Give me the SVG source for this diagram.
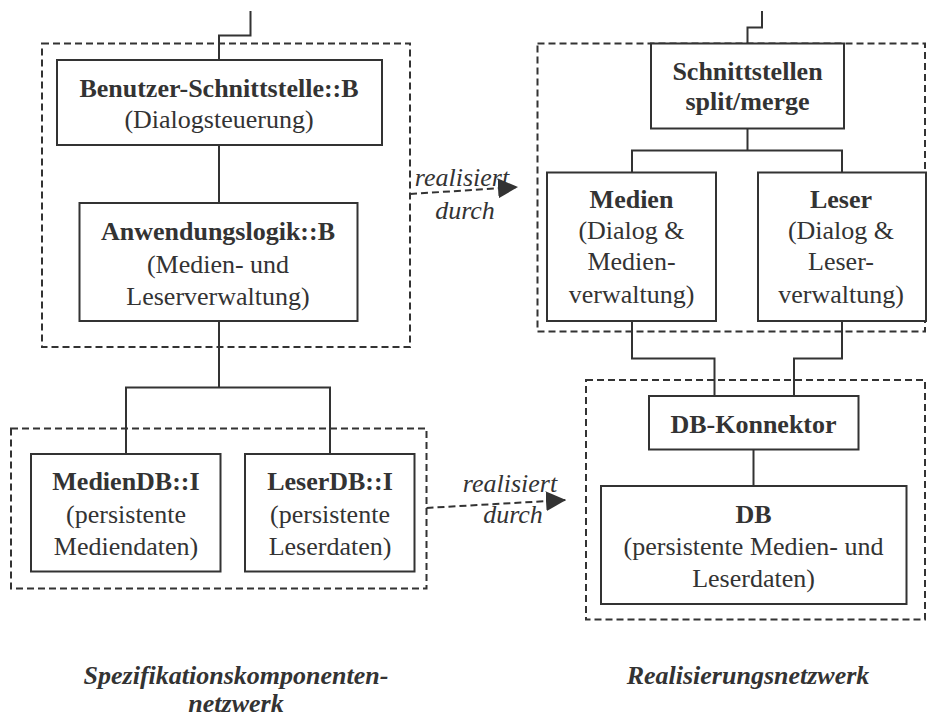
<svg xmlns="http://www.w3.org/2000/svg" width="928" height="720" viewBox="0 0 928 720" font-family="'Liberation Serif', 'DejaVu Serif', 'Times New Roman', serif">
  <defs>
    <style>
      .box { fill: #fff; stroke: #333; stroke-width: 2; }
      .group { fill: none; stroke: #333; stroke-width: 2; stroke-dasharray: 7 4; }
      .wire { fill: none; stroke: #333; stroke-width: 2; }
      .dash { fill: none; stroke: #333; stroke-width: 2; stroke-dasharray: 7 4; }
      text { font-family: 'Liberation Serif', 'DejaVu Serif', 'Times New Roman', serif; font-size: 26px; fill: #333; text-anchor: middle; }
      .b { font-weight: bold; }
      .i { font-style: italic; }
      .bi { font-weight: bold; font-style: italic; }
    </style>
    <marker id="tri" viewBox="0 0 20 20" refX="20" refY="10" markerWidth="20" markerHeight="20" markerUnits="userSpaceOnUse" orient="auto">
      <path d="M0,0 L20,10 L0,20 Z" fill="#333" stroke="none"/>
    </marker>
  </defs>

  <rect width="928" height="720" fill="#fff"/>

  <!-- dashed grouping frames -->
  <g id="frames">
    <rect class="group" x="42" y="43.5" width="368" height="303.5"/>
    <rect class="group" x="537.5" y="43.5" width="387.5" height="288"/>
    <rect class="group" x="11" y="428.5" width="415.5" height="160"/>
    <rect class="group" x="586" y="380" width="339" height="239.5"/>
  </g>

  <!-- connectors -->
  <g id="connectors">
    <polyline class="wire" points="250.5,11 250.5,35.5 219,35.5 219,60"/>
    <line class="wire" x1="219" y1="145" x2="219" y2="203"/>
    <polyline class="wire" points="219,321 219,387.5"/>
    <polyline class="wire" points="126,454 126,387.5 330,387.5 330,454"/>

    <polyline class="wire" points="762,11 762,27.5 747.5,27.5 747.5,43.5"/>
    <line class="wire" x1="747.5" y1="128.5" x2="747.5" y2="150.5"/>
    <polyline class="wire" points="632,172.5 632,150.5 842,150.5 842,172.5"/>
    <polyline class="wire" points="632,321 632,358.5 714.5,358.5 714.5,396"/>
    <polyline class="wire" points="842,321 842,358.5 794,358.5 794,396"/>
    <line class="wire" x1="753.5" y1="449.5" x2="753.5" y2="486"/>

    <path class="dash" d="M410,194 L518,187" marker-end="url(#tri)"/>
    <path class="dash" d="M426.5,508 L566,500" marker-end="url(#tri)"/>
    <text class="i" x="462" y="186" font-family="'Liberation Serif', serif" font-style="italic">realisiert</text>
    <text class="i" x="465" y="218.5" font-family="'Liberation Serif', serif" font-style="italic">durch</text>
    <text class="i" x="510" y="491.5" font-family="'Liberation Serif', serif" font-style="italic">realisiert</text>
    <text class="i" x="513" y="522.5" font-family="'Liberation Serif', serif" font-style="italic">durch</text>
  </g>

  <!-- specification components -->
  <g id="benutzer-schnittstelle">
    <rect class="box" x="57" y="60" width="325" height="85"/>
    <text class="b" x="219" y="96.5">Benutzer-Schnittstelle::B</text>
    <text x="219" y="128">(Dialogsteuerung)</text>
  </g>
  <g id="anwendungslogik">
    <rect class="box" x="79.5" y="203" width="278" height="118"/>
    <text class="b" x="218" y="240">Anwendungslogik::B</text>
    <text x="218" y="273">(Medien- und</text>
    <text x="218" y="305">Leserverwaltung)</text>
  </g>
  <g id="mediendb">
    <rect class="box" x="31" y="454" width="189.5" height="117.5"/>
    <text class="b" x="126" y="490">MedienDB::I</text>
    <text x="126" y="523">(persistente</text>
    <text x="126" y="555">Mediendaten)</text>
  </g>
  <g id="leserdb">
    <rect class="box" x="245" y="454" width="169.5" height="117.5"/>
    <text class="b" x="330" y="490">LeserDB::I</text>
    <text x="330" y="523">(persistente</text>
    <text x="330" y="555">Leserdaten)</text>
  </g>

  <!-- realisation components -->
  <g id="schnittstellen">
    <rect class="box" x="651" y="43.5" width="193" height="85"/>
    <text class="b" x="747.5" y="80">Schnittstellen</text>
    <text class="b" x="747.5" y="110">split/merge</text>
  </g>
  <g id="medien">
    <rect class="box" x="547" y="172.5" width="169" height="148.5"/>
    <text class="b" x="631.5" y="208">Medien</text>
    <text x="631.5" y="239">(Dialog &amp;</text>
    <text x="631.5" y="270">Medien-</text>
    <text x="631.5" y="303">verwaltung)</text>
  </g>
  <g id="leser">
    <rect class="box" x="758" y="172.5" width="168" height="148.5"/>
    <text class="b" x="841" y="208">Leser</text>
    <text x="841" y="239">(Dialog &amp;</text>
    <text x="841" y="270">Leser-</text>
    <text x="841" y="303">verwaltung)</text>
  </g>
  <g id="db-konnektor">
    <rect class="box" x="649" y="396" width="209.5" height="53.5"/>
    <text class="b" x="753.5" y="432.5">DB-Konnektor</text>
  </g>
  <g id="db">
    <rect class="box" x="601" y="486" width="305.5" height="118"/>
    <text class="b" x="753.5" y="523">DB</text>
    <text x="753.5" y="555">(persistente Medien- und</text>
    <text x="753.5" y="586.5">Leserdaten)</text>
  </g>

  <!-- captions -->
  <g id="captions">
    <text class="bi" x="236" y="683.5">Spezifikationskomponenten-</text>
    <text class="bi" x="236" y="711.5">netzwerk</text>
    <text class="bi" x="748" y="683.5">Realisierungsnetzwerk</text>
  </g>
</svg>
